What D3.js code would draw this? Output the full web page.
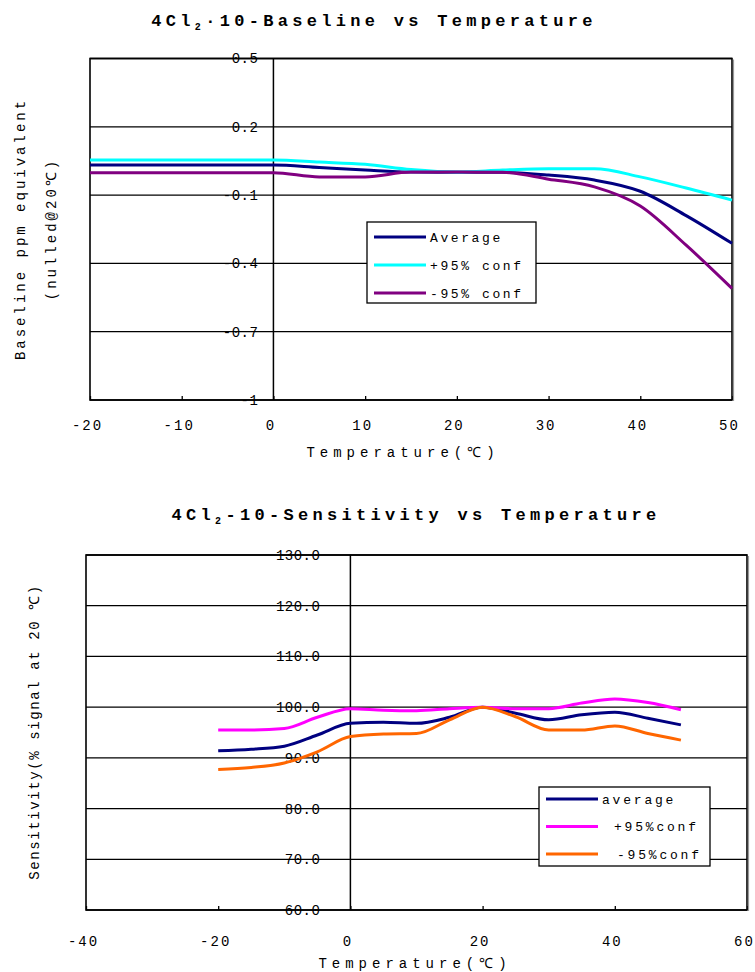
<!DOCTYPE html>
<html>
<head>
<meta charset="utf-8">
<script src="https://cdn.jsdelivr.net/npm/d3@7"></script>
<style>
  body { margin: 0; background: #fff; }
  svg text { font-family: "Liberation Mono", "DejaVu Sans Mono", monospace; fill: #000; }
</style>
</head>
<body>
<svg width="755" height="972"></svg>
<script>
// ---- data: baseline chart ----
const baseTemps = [-20, -15, -10, -5, 0, 5, 10, 15, 20, 25, 30, 35, 40, 45, 50];
const baseAvg   = [0.032, 0.032, 0.032, 0.032, 0.032, 0.021, 0.010, 0.001, 0.0, 0.0, -0.012, -0.034, -0.083, -0.19, -0.312];
const basePlus  = [0.054, 0.054, 0.054, 0.054, 0.054, 0.045, 0.035, 0.012, 0.001, 0.010, 0.016, 0.016, -0.02, -0.069, -0.122];
const baseMinus = [-0.002, -0.002, -0.002, -0.002, -0.002, -0.02, -0.02, 0.001, 0.001, 0.0, -0.03, -0.064, -0.148, -0.32, -0.51];
const baseYTicks = [0.5, 0.2, -0.1, -0.4, -0.7, -1];
const baseXTicks = [-20, -10, 0, 10, 20, 30, 40, 50];
const baseNames  = ['Average', '+95% conf', '-95% conf'];

// ---- data: sensitivity chart ----
const sensTemps = [-20, -15, -10, -5, 0, 5, 10, 15, 20, 25, 30, 35, 40, 45, 50];
const sensAvg   = [91.4, 91.7, 92.3, 94.5, 96.8, 97.0, 96.8, 98.0, 100, 98.8, 97.5, 98.5, 99.0, 97.8, 96.5];
const sensPlus  = [95.5, 95.5, 95.8, 98.0, 99.7, 99.4, 99.3, 99.7, 100, 99.7, 99.7, 100.8, 101.6, 100.9, 99.5];
const sensMinus = [87.7, 88.1, 89.0, 91.2, 94.2, 94.7, 94.8, 97.5, 100, 98.1, 95.5, 95.5, 96.3, 94.8, 93.5];
const sensYTicks = [130, 120, 110, 100, 90, 80, 70, 60];
const sensXTicks = [-40, -20, 0, 20, 40, 60];
const sensNames  = ['average', '+95%conf', '-95%conf'];

const svg = d3.select('svg');

function drawPanel(cfg) {
    const g = svg.append('g');
    const x = d3.scaleLinear().domain(cfg.xDomain).range([cfg.left, cfg.right]);
    const y = d3.scaleLinear().domain(cfg.yDomain).range([cfg.bottom, cfg.top]);

    // title
    const title = g.append('text')
        .attr('x', cfg.titleX).attr('y', cfg.titleY)
        .attr('text-anchor', 'middle')
        .style('font-size', '17px').style('font-weight', 'bold')
        .style('letter-spacing', '4.3px');
    title.append('tspan').text('4Cl');
    title.append('tspan').text('2').style('font-size', '10px').attr('dy', 4);
    title.append('tspan').text(cfg.titleRest).attr('dy', -4);

    // horizontal grid
    g.append('g').selectAll('line')
        .data(cfg.yTicks)
        .join('line')
        .attr('x1', cfg.left).attr('x2', cfg.right)
        .attr('y1', d => y(d)).attr('y2', d => y(d))
        .attr('stroke', '#000').attr('stroke-width', 1.3);

    // x axis (ticks point inward)
    const axisX = d3.axisBottom(x)
        .tickValues(cfg.xTicks)
        .tickSize(-4)
        .tickPadding(cfg.xPad)
        .tickFormat(d => String(d));
    const axisXG = g.append('g')
        .attr('transform', `translate(0, ${cfg.bottom})`)
        .call(axisX);
    axisXG.select('.domain').remove();
    axisXG.selectAll('line').attr('stroke', '#000').attr('stroke-width', 1.3);
    axisXG.selectAll('text')
        .attr('dx', -3)
        .style('font-size', '14px').style('letter-spacing', '2px')
        .style('font-family', '"Liberation Mono", monospace');

    // vertical axis at x = 0
    g.append('line')
        .attr('x1', x(0)).attr('x2', x(0))
        .attr('y1', cfg.top).attr('y2', cfg.bottom)
        .attr('stroke', '#000').attr('stroke-width', 1.5);

    const axisY = d3.axisLeft(y)
        .tickValues(cfg.yTicks)
        .tickSize(0)
        .tickPadding(cfg.yPad)
        .tickFormat(cfg.yFormat);
    const axisYG = g.append('g')
        .attr('transform', `translate(${x(0)}, 0)`)
        .call(axisY);
    axisYG.select('.domain').remove();
    axisYG.selectAll('text')
        .style('font-size', '14px').style('letter-spacing', '0.5px')
        .style('font-family', '"Liberation Mono", monospace');

    // plot border
    g.append('rect')
        .attr('x', cfg.left).attr('y', cfg.top)
        .attr('width', cfg.right - cfg.left).attr('height', cfg.bottom - cfg.top)
        .attr('fill', 'none').attr('stroke', '#000').attr('stroke-width', 1.6);
    g.append('line')
        .attr('x1', cfg.right + 1.5).attr('x2', cfg.right + 1.5)
        .attr('y1', cfg.top + 1).attr('y2', cfg.bottom + 1)
        .attr('stroke', '#999').attr('stroke-width', 1.2);

    // series
    const line = d3.line()
        .x(d => x(d[0]))
        .y(d => y(d[1]))
        .curve(d3.curveMonotoneX);
    g.append('g').selectAll('path')
        .data(cfg.series)
        .join('path')
        .attr('d', s => line(cfg.temps.map((t, i) => [t, s.values[i]])))
        .attr('fill', 'none')
        .attr('stroke', s => s.color)
        .attr('stroke-width', 3);

    // axis titles
    g.append('text')
        .attr('x', cfg.xTitleX).attr('y', cfg.xTitleY)
        .attr('text-anchor', 'middle')
        .style('font-size', '14px').style('letter-spacing', '5px')
        .text('Temperature(℃)');
    cfg.yTitle.forEach((t, i) => {
        g.append('text')
            .attr('transform', `translate(${cfg.yTitleX[i]}, ${cfg.yTitleY}) rotate(-90)`)
            .attr('text-anchor', 'middle')
            .attr('dy', '0.35em')
            .style('font-size', '14px').style('letter-spacing', cfg.yTitleSpacing)
            .text(t);
    });

    // legend
    const L = cfg.legend;
    const lg = g.append('g');
    lg.append('rect')
        .attr('x', L.x).attr('y', L.y).attr('width', L.w).attr('height', L.h)
        .attr('fill', '#fff').attr('stroke', '#000').attr('stroke-width', 1.3);
    const items = lg.selectAll('g.item')
        .data(cfg.series)
        .join('g')
        .attr('class', 'item')
        .attr('transform', (d, i) => `translate(${L.x + 7}, ${L.y + L.first + i * L.step})`);
    items.append('line')
        .attr('x1', 0).attr('x2', L.lineLen)
        .attr('stroke', d => d.color).attr('stroke-width', 3);
    items.append('text')
        .attr('x', (d, i) => L.textX[i])
        .attr('dy', '0.35em')
        .style('font-size', '13px').style('letter-spacing', L.spacing)
        .text(d => d.name);
}

drawPanel({
    titleRest: '·10-Baseline vs Temperature', titleX: 374, titleY: 26,
    left: 90, right: 732, top: 58.5, bottom: 400,
    xDomain: [-20, 50], yDomain: [-1, 0.5],
    xTicks: baseXTicks, yTicks: baseYTicks,
    xPad: 20, yPad: 15,
    yFormat: d => (d === -1 ? '-1' : d.toFixed(1)),
    temps: baseTemps,
    series: [
        {name: baseNames[0], color: '#000080', values: baseAvg},
        {name: baseNames[1], color: '#00ffff', values: basePlus},
        {name: baseNames[2], color: '#800080', values: baseMinus}
    ],
    xTitleX: 403, xTitleY: 457,
    yTitle: ['Baseline ppm equivalent', '(nulled@20℃)'],
    yTitleX: [20, 51], yTitleY: 229, yTitleSpacing: '3px',
    legend: {x: 367, y: 222, w: 169, h: 81, first: 15, step: 28, lineLen: 52,
             textX: [56, 56, 56], spacing: '2.6px'}
});

drawPanel({
    titleRest: '-10-Sensitivity vs Temperature', titleX: 416, titleY: 520,
    left: 86, right: 747, top: 555, bottom: 910,
    xDomain: [-40, 60], yDomain: [60, 130],
    xTicks: sensXTicks, yTicks: sensYTicks,
    xPad: 26, yPad: 30,
    yFormat: d => d.toFixed(1),
    temps: sensTemps,
    series: [
        {name: sensNames[0], color: '#000080', values: sensAvg},
        {name: sensNames[1], color: '#ff00ff', values: sensPlus},
        {name: sensNames[2], color: '#ff6600', values: sensMinus}
    ],
    xTitleX: 415, xTitleY: 968,
    yTitle: ['Sensitivity(% signal at 20 ℃)'],
    yTitleX: [34], yTitleY: 732, yTitleSpacing: '1.6px',
    legend: {x: 539, y: 787, w: 171, h: 79, first: 12, step: 27.5, lineLen: 52,
             textX: [56, 68, 71], spacing: '2.8px'}
});
</script>
</body>
</html>
